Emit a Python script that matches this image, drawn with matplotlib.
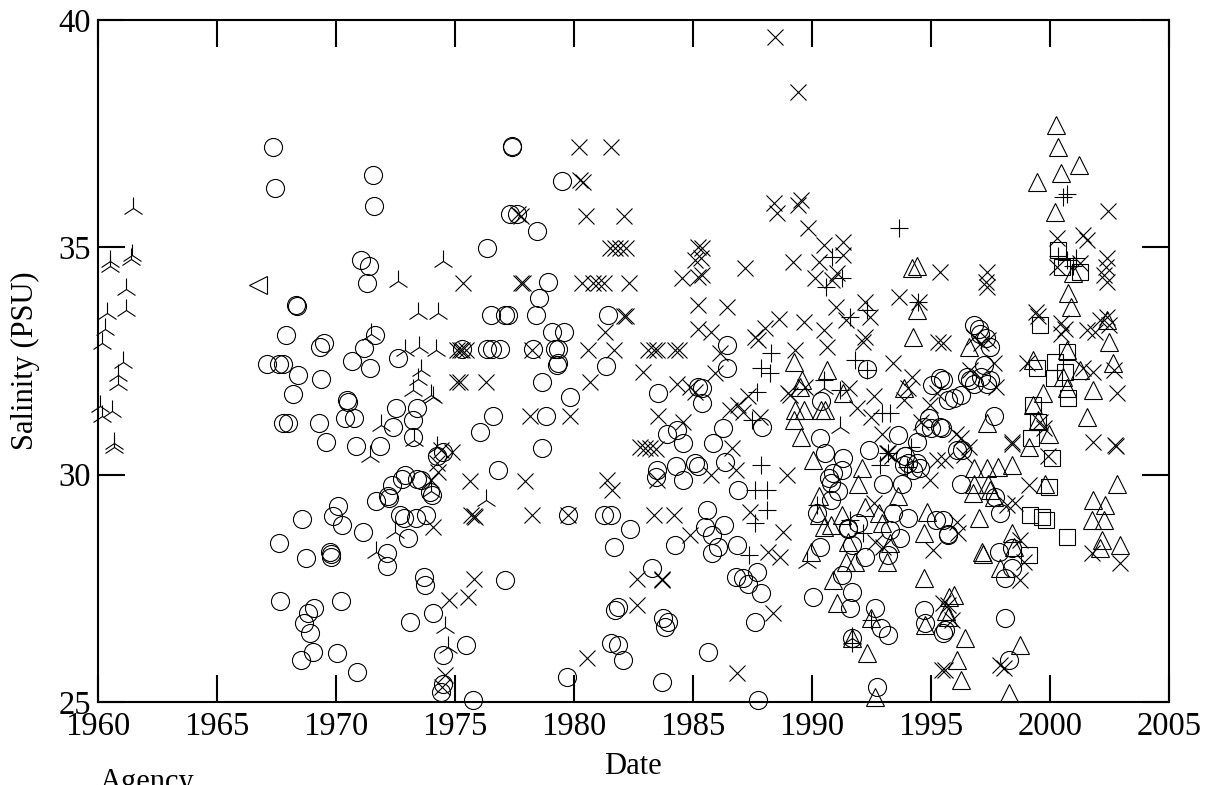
import matplotlib
matplotlib.use("Agg")
import matplotlib.pyplot as plt

plt.rcParams['font.family'] = ['Liberation Serif', 'DejaVu Serif']

# ---------------- data (year, salinity PSU) ----------------
tri_year = [1961.5, 1961.45, 1961.4, 1960.5, 1960.5, 1961.2, 1961.2, 1960.4, 1960.3, 1960.2,
            1961.07, 1960.85, 1960.85, 1960.1, 1960.6, 1960.2, 1960.7, 1960.7,
            1972.6, 1974.5, 1973.45, 1974.3, 1972.9, 1973.5, 1974.2, 1973.6, 1973.45, 1973.25,
            1974.0, 1971.5, 1971.9, 1971.45, 1972.5, 1971.7, 1973.3, 1974.1, 1974.25, 1976.3,
            1974.6, 1974.7, 1974.0, 1989.8, 1991.2, 1991.7, 1990.5]
tri_sal = [35.87, 34.83, 34.75, 34.6, 34.7, 34.08, 33.62, 33.55, 33.2, 32.9,
           32.48, 32.2, 32.0, 31.5, 31.4, 31.3, 30.7, 30.6,
           34.25, 34.7, 33.55, 33.55, 32.75, 32.8, 32.75, 32.3, 32.1, 31.86,
           31.75, 33.1, 31.1, 30.4, 28.75, 28.3, 30.77, 31.7, 30.6, 29.45,
           26.65, 26.2, 29.65, 28.08, 31.05, 26.4, 31.9]

ltri_year = [1966.75]
ltri_sal = [34.17]

circ_year = [1967.37, 1967.45, 1971.55, 1971.6, 1971.05, 1971.4, 1971.3, 1968.35, 1968.38, 1967.9,
             1971.65, 1969.35, 1969.5, 1971.2, 1967.1, 1967.6, 1967.8, 1968.4, 1969.4, 1970.7,
             1971.45, 1972.6, 1968.2, 1970.47, 1970.5,
             1970.4, 1970.75, 1972.55, 1973.4, 1967.8, 1968.0, 1969.3, 1969.6, 1970.85, 1971.85,
             1972.4, 1973.25, 1973.25, 1972.9, 1972.8, 1972.35, 1972.2, 1972.22, 1971.7, 1973.4,
             1972.7, 1972.85, 1973.35, 1973.05, 1972.15, 1972.15, 1970.1, 1969.9, 1970.25, 1971.15,
             1968.6, 1967.6, 1968.75, 1969.75, 1969.78, 1969.8, 1973.7, 1973.75, 1967.65, 1970.2,
             1969.1, 1968.85, 1968.65, 1968.9, 1969.05, 1970.05, 1968.55, 1970.9, 1973.1,
             1977.4, 1977.42, 1979.5, 1977.33, 1977.6, 1978.45, 1976.35, 1978.9, 1978.55, 1976.5,
             1977.1, 1977.25, 1978.4, 1979.1, 1979.6, 1981.45, 1975.3, 1976.35, 1976.55, 1976.9,
             1978.3, 1979.2, 1979.35, 1979.3, 1979.35, 1981.35, 1978.65, 1979.85, 1983.55,
             1976.6, 1978.85, 1976.05, 1978.65, 1976.8, 1974.25, 1974.5, 1973.6, 1973.95, 1974.05,
             1973.8, 1974.1, 1975.45, 1974.5, 1974.5, 1974.4, 1975.75, 1977.1, 1979.75, 1981.25,
             1981.55, 1982.35, 1981.7, 1979.7, 1981.75, 1981.85, 1981.55, 1981.85, 1982.05, 1983.3,
             1983.75, 1983.95, 1983.85, 1983.7, 1984.35, 1984.6, 1984.6, 1984.3, 1983.5, 1983.45,
             1983.9, 1985.1, 1984.25,
             1986.45, 1986.45, 1985.2, 1985.4, 1992.3, 1995.05, 1995.4, 1990.4,
             1985.4, 1987.9, 1986.25, 1985.85, 1985.2, 1986.35, 1986.9, 1985.6, 1985.5, 1986.3,
             1985.8, 1986.05, 1985.8, 1986.85, 1986.8, 1987.1, 1987.3, 1987.7, 1987.85, 1987.6,
             1985.65, 1987.75, 1990.05, 1990.35, 1990.35, 1990.55, 1990.7, 1990.8, 1990.9, 1990.8,
             1991.1, 1991.3, 1991.25, 1990.2, 1991.5, 1991.52, 1991.25, 1991.7, 1991.6, 1991.7,
             1991.95, 1992.25, 1992.4, 1993.0, 1993.2, 1993.3, 1993.4, 1993.7, 1994.05, 1992.65,
             1992.9, 1993.2, 1991.7, 1992.75, 1993.6, 1993.85, 1994.05, 1994.55, 1994.7, 1995.0,
             1995.2, 1995.4, 1994.7, 1994.75, 1995.5, 1995.7, 1993.9,
             1996.8, 1997.0, 1997.3, 1997.5, 1996.5, 1997.1, 1997.5, 1995.5,
             1995.95, 1995.7, 1996.25, 1996.8, 1997.35, 1997.65, 1995.45, 1996.1, 1996.3, 1996.25,
             1997.7, 1997.9, 1995.5, 1995.7, 1997.85, 1998.4, 1998.4, 1998.1, 1998.1, 1998.3,
             1995.6, 1994.4, 1994.25, 1994.4, 1993.8, 1994.9, 1997.05, 1997.25, 1996.65]
circ_sal = [37.2, 36.3, 36.6, 35.9, 34.72, 34.6, 34.22, 33.73, 33.72, 33.07,
            33.07, 32.8, 32.9, 32.78, 32.43, 32.43, 32.43, 32.2, 32.1, 32.5,
            32.34, 32.57, 31.78, 31.64, 31.6,
            31.25, 31.25, 31.47, 31.47, 31.13, 31.13, 31.13, 30.72, 30.62, 30.62,
            31.05, 31.2, 30.83, 30.0, 29.9, 29.78, 29.52, 29.48, 29.42, 29.9,
            29.12, 29.05, 29.05, 28.6, 28.27, 28.0, 29.3, 29.1, 28.9, 28.74,
            29.03, 28.5, 28.16, 28.3, 28.25, 28.2, 27.75, 27.57, 27.22, 27.22,
            27.07, 26.95, 26.74, 26.52, 26.1, 26.08, 25.93, 25.66, 26.76,
            37.23, 37.2, 36.46, 35.73, 35.73, 35.36, 34.98, 34.24, 33.88, 33.51,
            33.51, 33.51, 33.51, 33.14, 33.14, 33.51, 32.76, 32.76, 32.76, 32.76,
            32.76, 32.76, 32.76, 32.41, 32.45, 32.4, 32.04, 31.7, 31.8,
            31.3, 31.3, 30.94, 30.58, 30.1, 30.4, 30.5, 29.88, 29.62, 29.55,
            29.12, 26.95, 26.25, 26.03, 25.4, 25.22, 25.05, 27.68, 29.12, 29.12,
            29.12, 28.8, 28.4, 25.55, 27.03, 27.1, 26.3, 26.25, 25.93, 27.95,
            26.85, 26.76, 26.65, 25.44, 30.98, 30.7, 29.88, 30.2, 30.1, 29.95,
            30.9, 30.25, 28.45,
            32.85, 32.34, 31.93, 31.9, 32.33, 31.97, 32.12, 31.62,
            31.58, 31.05, 31.02, 30.7, 30.2, 30.28, 29.66, 29.22, 28.85, 28.9,
            28.67, 28.4, 28.27, 28.45, 27.75, 27.73, 27.6, 27.85, 27.4, 26.76,
            26.1, 25.05, 27.31, 28.4, 30.8, 30.47, 29.93, 29.82, 30.04, 29.45,
            29.65, 30.37, 30.1, 29.15, 28.83, 28.8, 27.8, 27.42, 27.07, 28.45,
            28.93, 28.2, 30.55, 29.8, 28.23, 28.78, 29.15, 28.6, 29.05, 27.07,
            26.63, 26.48, 26.41, 25.33, 30.87, 30.21, 30.25, 30.14, 31.05, 31.02,
            29.0, 31.05, 27.03, 26.74, 26.52, 28.7, 30.4,
            33.3, 33.2, 33.0, 32.8, 32.15, 32.15, 32.08, 32.08,
            31.68, 31.64, 31.75, 32.0, 32.0, 31.3, 31.02, 30.54, 30.54, 29.8,
            29.5, 29.15, 29.0, 28.67, 28.3, 28.38, 27.95, 27.73, 26.85, 25.93,
            26.58, 30.72, 30.1, 30.25, 29.8, 31.25, 33.1, 32.41, 32.08]

x_year = [1980.2, 1981.55, 1980.25, 1980.4, 1977.65, 1977.8, 1980.5, 1982.1, 1981.5, 1981.75,
          1981.95, 1982.2, 1975.35, 1977.8, 1977.85, 1980.35, 1980.8, 1981.0, 1981.25, 1982.3,
          1984.55, 1985.2, 1985.1, 1985.2, 1982.1, 1982.2, 1981.3, 1985.2, 1985.2,
          1975.1, 1975.2, 1975.3, 1975.45, 1978.25, 1980.6, 1981.7, 1983.1, 1983.35, 1983.5,
          1984.25, 1984.4, 1975.1, 1975.2, 1976.3, 1980.7, 1982.9, 1984.35, 1984.9, 1985.1,
          1978.15, 1979.85, 1983.55, 1984.6, 1974.4, 1974.9, 1974.25, 1974.3, 1974.0, 1975.65,
          1977.95, 1981.4, 1981.6, 1975.7, 1975.8, 1975.85, 1978.25, 1979.75, 1983.35, 1984.2,
          1984.9, 1974.1, 1982.8, 1983.0, 1983.2, 1983.45, 1983.5, 1975.8, 1975.55, 1974.75,
          1982.65, 1983.7, 1983.72, 1982.65, 1980.55, 1974.6, 1974.45,
          1988.45, 1989.4, 1988.4, 1988.55, 1989.4, 1989.55, 1989.85, 1985.4, 1985.35, 1985.4,
          1987.2, 1989.2, 1990.5, 1991.3, 1990.3, 1991.3, 1990.15, 1991.05, 1990.85, 1986.45,
          1991.0, 1992.25, 1993.65, 1994.5, 1995.4, 1985.75, 1986.15, 1985.95, 1987.6, 1987.75,
          1988.05, 1988.6, 1989.65, 1989.3, 1990.5, 1990.65, 1992.25, 1992.15, 1992.45, 1991.45,
          1993.4, 1994.2, 1995.3, 1987.3, 1989.0, 1989.7, 1991.55, 1992.6, 1994.05, 1995.25,
          1986.55, 1986.9, 1987.1, 1987.8, 1988.95, 1988.8, 1988.15, 1988.65, 1987.4, 1986.65,
          1986.8, 1985.75, 1988.35, 1986.85, 1989.1, 1991.9, 1992.5, 1992.95, 1993.15, 1992.65,
          1993.0, 1994.6, 1994.95, 1994.95, 1995.1, 1995.5, 1995.6, 1993.85, 1995.25, 1993.35,
          1997.35, 1997.35, 1997.3, 2002.45, 2000.3, 2001.4, 2001.55, 2002.4, 2002.35, 2002.25,
          2002.4, 2000.3, 2001.25, 1999.4, 1999.5, 2000.65, 2000.45, 2001.55, 2002.1, 2002.4,
          1995.5, 1999.05, 2001.4, 2001.8, 2002.8, 1996.8, 1997.1, 1997.4, 1997.65,
          2001.8, 2002.75, 2002.77, 2001.75, 2002.95, 1998.4, 1998.42, 1999.1, 1998.55, 1999.9,
          1999.6, 1999.75, 1998.75, 1998.9, 1998.75, 1997.9, 1998.05, 1996.05, 1996.25, 1996.6,
          1996.4, 1995.6, 1996.1, 1996.15, 1998.2, 1995.7, 1995.9, 1995.45,
          1993.2, 1992.6, 2000.45, 2001.9, 2002.5, 2002.7, 1996.65, 1997.75]
x_sal = [37.2, 37.2, 36.48, 36.44, 35.73, 35.7, 35.7, 35.7, 34.98, 34.98,
         34.98, 34.98, 34.22, 34.22, 34.22, 34.22, 34.22, 34.22, 34.22, 34.22,
         34.33, 35.0, 34.72, 34.35, 33.5, 33.5, 33.14, 33.73, 33.2,
         32.75, 32.75, 32.75, 32.75, 32.75, 32.75, 32.75, 32.75, 32.75, 32.75,
         32.75, 32.75, 32.04, 32.04, 32.04, 32.04, 32.26, 32.0, 31.93, 31.82,
         31.3, 31.3, 31.3, 31.16, 30.54, 30.5, 30.25, 30.05, 29.88, 29.85,
         29.85, 29.88, 29.67, 29.12, 29.1, 29.07, 29.12, 29.12, 29.12, 29.12,
         28.67, 28.85, 30.6, 30.58, 30.58, 30.56, 29.88, 27.7, 27.3, 27.25,
         27.7, 27.7, 27.68, 27.14, 25.97, 25.6, 25.33,
         39.63, 38.42, 35.97, 35.75, 35.93, 36.04, 35.42, 34.98, 34.77, 34.4,
         34.54, 34.68, 35.05, 35.12, 34.68, 34.83, 34.33, 34.44, 34.28, 33.69,
         33.69, 33.8, 33.9, 33.8, 34.46, 33.14, 32.67, 32.23, 33.03, 32.96,
         33.22, 33.42, 33.36, 32.75, 33.18, 32.8, 33.03, 32.92, 33.47, 33.4,
         32.45, 32.15, 32.92, 31.72, 31.8, 31.93, 31.9, 31.72, 31.9, 31.8,
         31.42, 31.53, 31.38, 31.27, 30.0, 28.74, 28.3, 28.2, 29.18, 30.58,
         30.1, 30.0, 26.95, 25.64, 31.75, 31.47, 31.27, 30.9, 30.47, 28.52,
         28.4, 31.16, 31.53, 29.88, 28.34, 27.18, 25.7, 31.64, 30.33, 30.4,
         34.46, 34.13, 34.24, 35.8, 35.2, 35.27, 35.16, 34.77, 34.57, 34.4,
         34.24, 34.57, 34.65, 33.58, 33.5, 33.2, 33.1, 33.18, 33.4, 33.47,
         32.9, 32.45, 32.34, 32.26, 31.8, 33.03, 32.9, 32.96, 32.45,
         30.72, 30.65, 30.62, 28.27, 28.05, 30.72, 30.68, 29.77, 29.38, 30.4,
         31.16, 31.02, 28.56, 28.08, 27.68, 25.82, 25.75, 30.9, 30.8, 30.6,
         30.43, 30.33, 28.96, 28.72, 29.33, 27.13, 26.8, 25.7,
         30.47, 29.37, 33.33, 33.14, 33.3, 32.3, 32.3, 31.93]

plus_year = [1993.65, 1990.85, 1991.25, 1990.6, 1994.45, 1991.6, 1992.3, 1988.3, 1987.85, 1988.25,
             1991.8, 1992.3, 1987.7, 1990.5, 1987.5, 1987.85, 1987.6, 1988.1, 1988.1, 1987.6,
             1987.35, 1991.2, 1992.95, 1993.3, 1992.85, 1991.6, 1992.15, 1992.5, 1991.7, 1994.15,
             1994.0, 1993.2, 1990.2, 2000.7, 2000.55, 2000.35, 2000.7, 2000.95, 2001.1]
plus_sal = [35.42, 34.79, 34.33, 34.13, 33.8, 33.47, 33.62, 32.67, 32.34, 32.23,
            32.52, 32.3, 31.82, 32.08, 31.2, 30.21, 29.66, 29.66, 29.22, 28.93,
            28.23, 31.86, 31.35, 31.35, 30.21, 29.0, 28.72, 26.8, 26.3, 30.6,
            30.17, 30.47, 29.33, 36.17, 36.1, 34.8, 34.72, 34.6, 34.77]

trup_year = [1994.2, 1994.4, 1994.4, 1994.25, 1989.25, 1989.6, 1990.65, 1993.85, 1989.5, 1989.3,
             1989.65, 1990.4, 1990.55, 1989.25, 1989.55, 1990.05, 1991.3, 1992.1, 1991.95, 1990.3,
             1990.3, 1991.25, 1990.8, 1992.25, 1992.8, 1993.6, 1993.3, 1993.15, 1991.5, 1991.45,
             1991.8, 1989.95, 1990.9, 1991.05, 1992.5, 1991.7, 1992.3, 1992.65, 1994.85, 1994.7,
             1994.7, 1994.75, 1995.75, 1995.7,
             2000.25, 2000.35, 2001.2, 2000.45, 1999.45, 2000.2, 2000.95, 2000.75, 2000.9, 2002.4,
             2002.5, 2002.65, 1999.3, 2001.8, 1996.6, 1999.7, 2001.55, 1999.3, 1999.5, 1999.95,
             1999.1, 1997.35, 1996.8, 1997.35, 1997.8, 1998.4, 1996.8, 1997.4, 1996.75, 1997.5,
             1997.65, 2002.8, 2001.8, 2002.3, 2001.75, 2002.25, 2002.2, 2002.1, 2002.95, 1997.0,
             1997.15, 1997.18, 1998.4, 1998.5, 1997.9, 1995.95, 1996.45, 1996.1, 1996.25, 1998.75,
             1998.3, 1995.65,
             1992.95, 1990.5, 2000.7, 2001.25, 2000.55, 2000.7, 1999.8]
trup_sal = [34.54, 34.6, 33.62, 33.03, 32.48, 32.08, 32.3, 31.9, 31.93, 31.42,
            31.42, 31.42, 31.42, 31.2, 30.83, 30.33, 31.8, 30.14, 29.8, 29.52,
            29.12, 29.12, 28.9, 29.29, 29.15, 29.52, 28.5, 28.08, 28.52, 28.08,
            28.08, 28.3, 27.68, 27.18, 26.85, 26.41, 26.08, 25.1, 29.18, 28.72,
            27.73, 26.7, 27.3, 26.87,
            37.7, 37.2, 36.8, 36.63, 36.44, 35.78, 34.44, 33.99, 33.69, 33.4,
            32.92, 32.45, 32.52, 31.86, 32.8, 31.8, 31.27, 31.53, 31.2, 30.9,
            30.6, 31.13, 30.14, 30.14, 30.17, 30.21, 29.8, 29.8, 29.6, 29.66,
            29.5, 29.8, 29.45, 29.33, 29.0, 29.0, 28.56, 28.38, 28.45, 29.05,
            28.3, 28.26, 28.72, 28.4, 27.95, 27.35, 26.41, 25.93, 25.48, 26.25,
            25.2, 27.0,
            28.93, 28.85, 32.75, 32.3, 32.15, 31.9, 29.8]

sq_year = [2000.35, 2000.5, 2001.25, 1999.6, 2000.7, 1999.45, 2000.2, 2000.65, 2000.15, 2000.75,
           1999.3, 1999.5, 1999.2, 2000.1, 1999.95, 1999.15, 1999.65, 1999.85, 2000.7,
           1999.1]
sq_sal = [34.94, 34.57, 34.46, 33.29, 32.7, 32.34, 32.48, 32.26, 32.13, 31.68,
          31.53, 31.16, 30.8, 30.37, 29.73, 29.12, 29.07, 29.0, 28.63,
          28.23]

x_ticks = [1960, 1965, 1970, 1975, 1980, 1985, 1990, 1995, 2000, 2005]
y_ticks = [25, 30, 35, 40]

# ---------------- figure ----------------
fig = plt.figure(figsize=(12.1, 7.85), dpi=100)
ax = fig.add_axes([97.7 / 1210, 1 - 702 / 785, (1169 - 97.7) / 1210, (702 - 20) / 785])

mew = 0.8
common = dict(linestyle='none', color='black', markerfacecolor='none',
              markeredgewidth=mew, clip_on=False)
ax.plot(circ_year, circ_sal, marker='o', markersize=13, **common)
ax.plot(x_year, x_sal, marker='x', markersize=11.5, **common)
ax.plot(plus_year, plus_sal, marker='+', markersize=12.5, **common)
ax.plot(trup_year, trup_sal, marker='^', markersize=12.5, **common)
ax.plot(sq_year, sq_sal, marker='s', markersize=12, **common)
ax.plot(tri_year, tri_sal, marker='2', markersize=16, **common)
ax.plot(ltri_year, ltri_sal, marker='<', markersize=12.5, **common)

ax.set_xlim(1960, 2005)
ax.set_ylim(25, 40)
ax.set_xticks(x_ticks)
ax.set_yticks(y_ticks)
ax.tick_params(direction='in', length=19.5, width=1.5, top=True, right=True,
               labelsize=23.5, colors='black')
ax.tick_params(axis='x', pad=7)
ax.tick_params(axis='y', pad=5)
for s in ax.spines.values():
    s.set_linewidth(1.5)

fig.text(633 / 1210, 1 - 766 / 785, 'Date', ha='center', va='center', fontsize=22)
fig.text(25 / 1210, 1 - 361 / 785, 'Salinity (PSU)', ha='center', va='center',
         rotation=90, fontsize=22)
fig.text(100 / 1210, 1 - 768 / 785, 'Agency', ha='left', va='top', fontsize=22)

fig.savefig('out.png', dpi=100)
